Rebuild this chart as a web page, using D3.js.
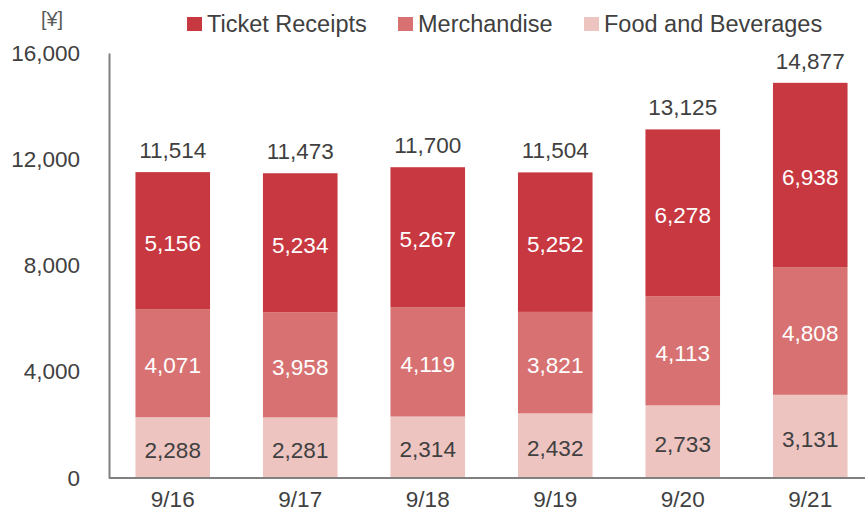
<!DOCTYPE html>
<html>
<head>
<meta charset="utf-8">
<script src="https://cdn.jsdelivr.net/npm/d3@7"></script>
<style>
  body { margin: 0; background: #fff; }
  text { font-family: "Liberation Sans", Arial, sans-serif; }
</style>
</head>
<body>
<div class="chart"></div>
<script>
// Daily sales data (yen)
const dates = ["9/16", "9/17", "9/18", "9/19", "9/20", "9/21"];
const foodBeverages = [2288, 2281, 2314, 2432, 2733, 3131];
const merchandise = [4071, 3958, 4119, 3821, 4113, 4808];
const ticketReceipts = [5156, 5234, 5267, 5252, 6278, 6938];
const totals = [11514, 11473, 11700, 11504, 13125, 14877];
const yTicks = [0, 4000, 8000, 12000, 16000];

const seriesNames = ["Food and Beverages", "Merchandise", "Ticket Receipts"];
const legendOrder = ["Ticket Receipts", "Merchandise", "Food and Beverages"];
const colors = {
    "Ticket Receipts": "#c83841",
    "Merchandise": "#d87272",
    "Food and Beverages": "#edc4c0"
};
const labelColors = {
    "Ticket Receipts": "#ffffff",
    "Merchandise": "#ffffff",
    "Food and Beverages": "#404040"
};

const width = 865, height = 519;
const numSize = "22.5px";

const svg = d3.select(".chart").append("svg")
    .attr("width", width)
    .attr("height", height);

// Build rows for the stack
const rows = dates.map((d, i) => ({
    date: d,
    "Food and Beverages": foodBeverages[i],
    "Merchandise": merchandise[i],
    "Ticket Receipts": ticketReceipts[i]
}));

const stacked = d3.stack().keys(seriesNames)(rows);

const x = d3.scaleBand()
    .domain(dates)
    .range([109, 874])
    .paddingInner(0.415)
    .paddingOuter(0.2075);

const y = d3.scaleLinear()
    .domain([0, 16000])
    .range([478, 53]);

const fmt = d3.format(",");

// Bars
const layers = svg.selectAll("g.layer")
    .data(stacked)
    .enter().append("g")
    .attr("class", "layer")
    .attr("fill", d => colors[d.key]);

layers.selectAll("rect")
    .data(d => d)
    .enter().append("rect")
    .attr("x", d => x(d.data.date))
    .attr("y", d => y(d[1]))
    .attr("height", d => y(d[0]) - y(d[1]))
    .attr("width", x.bandwidth());

// Segment labels
stacked.forEach(layer => {
    svg.append("g")
        .selectAll("text")
        .data(layer)
        .enter().append("text")
        .attr("x", d => x(d.data.date) + x.bandwidth() / 2)
        .attr("y", d => (y(d[0]) + y(d[1])) / 2)
        .attr("dy", "0.45em")
        .attr("text-anchor", "middle")
        .attr("font-size", numSize)
        .attr("fill", labelColors[layer.key])
        .text(d => fmt(d[1] - d[0]));
});

// Totals above bars
svg.append("g")
    .selectAll("text")
    .data(totals)
    .enter().append("text")
    .attr("x", (d, i) => x(dates[i]) + x.bandwidth() / 2)
    .attr("y", d => y(d) - 14)
    .attr("text-anchor", "middle")
    .attr("font-size", numSize)
    .attr("fill", "#404040")
    .text(d => fmt(d));

// Y axis
const yAxis = svg.append("g")
    .attr("transform", "translate(109,0)")
    .call(d3.axisLeft(y).tickValues(yTicks).tickFormat(fmt).tickSize(0).tickPadding(29));
yAxis.select(".domain").attr("stroke", "#808080").attr("stroke-width", 2);
yAxis.selectAll("text")
    .attr("font-size", numSize)
    .attr("fill", "#404040")
    .attr("font-family", "Liberation Sans, Arial, sans-serif");

// X axis
const xAxis = svg.append("g")
    .attr("transform", "translate(0,478)")
    .call(d3.axisBottom(x).tickSize(0).tickPadding(13));
xAxis.select(".domain")
    .attr("d", "M109,0H874")
    .attr("stroke", "#808080").attr("stroke-width", 2);
xAxis.selectAll("text")
    .attr("font-size", numSize)
    .attr("fill", "#404040")
    .attr("font-family", "Liberation Sans, Arial, sans-serif");

// Unit label
svg.append("text")
    .attr("x", 52)
    .attr("y", 26)
    .attr("text-anchor", "middle")
    .attr("font-size", "20px")
    .attr("fill", "#595959")
    .text("[¥]");

// Legend
const legendX = [187, 398, 584];
const legend = svg.append("g")
    .selectAll("g")
    .data(legendOrder)
    .enter().append("g")
    .attr("transform", (d, i) => `translate(${legendX[i]},17)`);

legend.append("rect")
    .attr("width", 15)
    .attr("height", 14)
    .attr("fill", d => colors[d]);

legend.append("text")
    .attr("x", 20)
    .attr("y", 15)
    .attr("font-size", "23.5px")
    .attr("fill", "#404040")
    .text(d => d);
</script>
</body>
</html>
